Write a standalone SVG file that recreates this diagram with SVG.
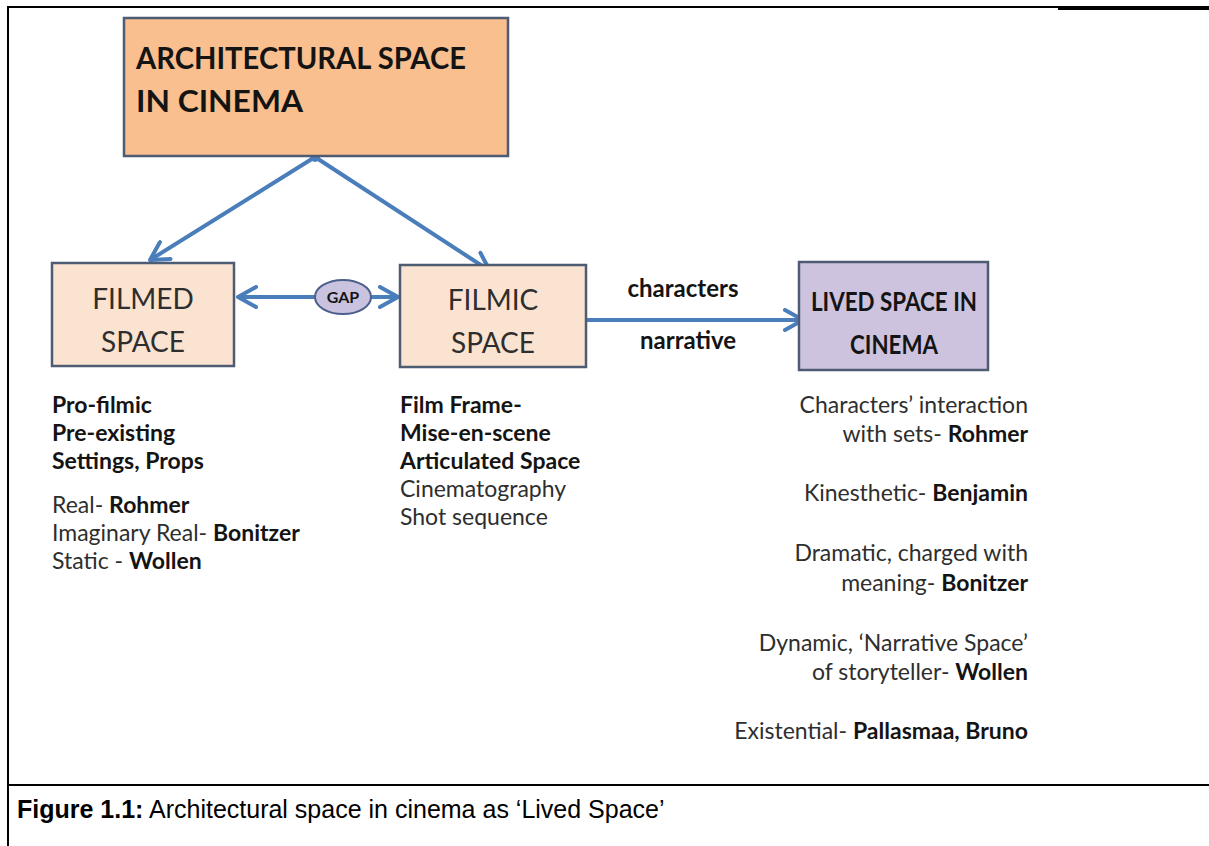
<svg xmlns="http://www.w3.org/2000/svg" width="1209" height="846" viewBox="0 0 1209 846">
<style>
.frame{stroke:#000;stroke-width:2;fill:none}
.box{stroke:#4d5b73;stroke-width:2.5}
.conn{stroke:#4a7ebb;stroke-width:4;fill:none}
.t{font-family:Lato,"Open Sans","Liberation Sans",sans-serif;fill:#2e2e2e}
.b{font-weight:bold;fill:#141414}
.body{font-size:23px}
.cap{font-family:"Liberation Sans",Arial,sans-serif;font-size:25px;fill:#000}
</style>
<defs>
<marker id="ah" viewBox="0 0 12 12" refX="10" refY="6" markerWidth="6" markerHeight="6" orient="auto-start-reverse" markerUnits="strokeWidth">
<path d="M1,1 L10,6 L1,11" fill="none" stroke="#4a7ebb" stroke-width="2" stroke-linecap="round" stroke-linejoin="round"/>
</marker>
</defs>
<g id="frame">
<line class="frame" x1="8" y1="6" x2="8" y2="846"/>
<line class="frame" x1="7" y1="7" x2="1209" y2="7"/>
<line x1="1058" y1="8.5" x2="1209" y2="8.5" stroke="#000" stroke-width="3"/>
<line class="frame" x1="7" y1="785" x2="1209" y2="785"/>
</g>
<g id="connectors">
<line class="conn" x1="315" y1="157" x2="150" y2="260" marker-end="url(#ah)"/>
<line class="conn" x1="315" y1="157" x2="490" y2="271" marker-end="url(#ah)"/>
<line class="conn" x1="238" y1="297" x2="398" y2="297" marker-start="url(#ah)" marker-end="url(#ah)"/>
<line class="conn" x1="586" y1="320" x2="803" y2="320" marker-end="url(#ah)"/>
<circle cx="315" cy="157" r="5" fill="#4a7ebb"/>
</g>
<g id="node-architectural">
<rect class="box" x="124" y="18" width="384" height="138" fill="#f9bf8f"/>
<text class="t b" x="136" y="69" font-size="31" textLength="330" lengthAdjust="spacingAndGlyphs">ARCHITECTURAL SPACE</text>
<text class="t b" x="136" y="112" font-size="31" textLength="167" lengthAdjust="spacingAndGlyphs">IN CINEMA</text>
</g>
<g id="node-filmed">
<rect class="box" x="52" y="263" width="182" height="103" fill="#fbe3d2"/>
<text class="t" x="143" y="309" font-size="28" text-anchor="middle">FILMED</text>
<text class="t" x="143" y="352" font-size="28" text-anchor="middle">SPACE</text>
</g>
<g id="node-gap">
<ellipse cx="343" cy="297" rx="28" ry="17" fill="#c9c3e0" stroke="#4d5f8c" stroke-width="2"/>
<text class="t b" x="343" y="303" font-size="16" text-anchor="middle">GAP</text>
</g>
<g id="node-filmic">
<rect class="box" x="400" y="265" width="186" height="102" fill="#fbe3d2"/>
<text class="t" x="493" y="310" font-size="28" text-anchor="middle">FILMIC</text>
<text class="t" x="493" y="353" font-size="28" text-anchor="middle">SPACE</text>
</g>
<g id="node-lived">
<rect class="box" x="799" y="262" width="189" height="108" fill="#cdc3de"/>
<text class="t b" x="894" y="311" font-size="27" text-anchor="middle" textLength="166" lengthAdjust="spacingAndGlyphs">LIVED SPACE IN</text>
<text class="t b" x="894" y="354" font-size="27" text-anchor="middle" textLength="88" lengthAdjust="spacingAndGlyphs">CINEMA</text>
</g>
<g id="labels">
<text class="t b" x="683" y="297" font-size="24" text-anchor="middle">characters</text>
<text class="t b" x="688" y="349" font-size="24" text-anchor="middle">narrative</text>
</g>
<g id="text-filmed">
<text class="t b body" x="52" y="413">Pro-filmic</text>
<text class="t b body" x="52" y="441">Pre-existing</text>
<text class="t b body" x="52" y="469">Settings, Props</text>
<text class="t body" x="52" y="513">Real- <tspan class="b">Rohmer</tspan></text>
<text class="t body" x="52" y="541">Imaginary Real- <tspan class="b">Bonitzer</tspan></text>
<text class="t body" x="52" y="569">Static - <tspan class="b">Wollen</tspan></text>
</g>
<g id="text-filmic">
<text class="t b body" x="400" y="413">Film Frame-</text>
<text class="t b body" x="400" y="441">Mise-en-scene</text>
<text class="t b body" x="400" y="469">Articulated Space</text>
<text class="t body" x="400" y="497">Cinematography</text>
<text class="t body" x="400" y="525">Shot sequence</text>
</g>
<g id="text-lived" text-anchor="end">
<text class="t body" x="1028" y="413">Characters’ interaction</text>
<text class="t body" x="1028" y="442">with sets- <tspan class="b">Rohmer</tspan></text>
<text class="t body" x="1028" y="501">Kinesthetic- <tspan class="b">Benjamin</tspan></text>
<text class="t body" x="1028" y="561">Dramatic, charged with</text>
<text class="t body" x="1028" y="591">meaning- <tspan class="b">Bonitzer</tspan></text>
<text class="t body" x="1028" y="651">Dynamic, ‘Narrative Space’</text>
<text class="t body" x="1028" y="680">of storyteller- <tspan class="b">Wollen</tspan></text>
<text class="t body" x="1028" y="739">Existential- <tspan class="b">Pallasmaa, Bruno</tspan></text>
</g>
<g id="caption">
<text class="cap" x="17" y="818"><tspan font-weight="bold">Figure 1.1:</tspan> Architectural space in cinema as ‘Lived Space’</text>
</g>
</svg>
